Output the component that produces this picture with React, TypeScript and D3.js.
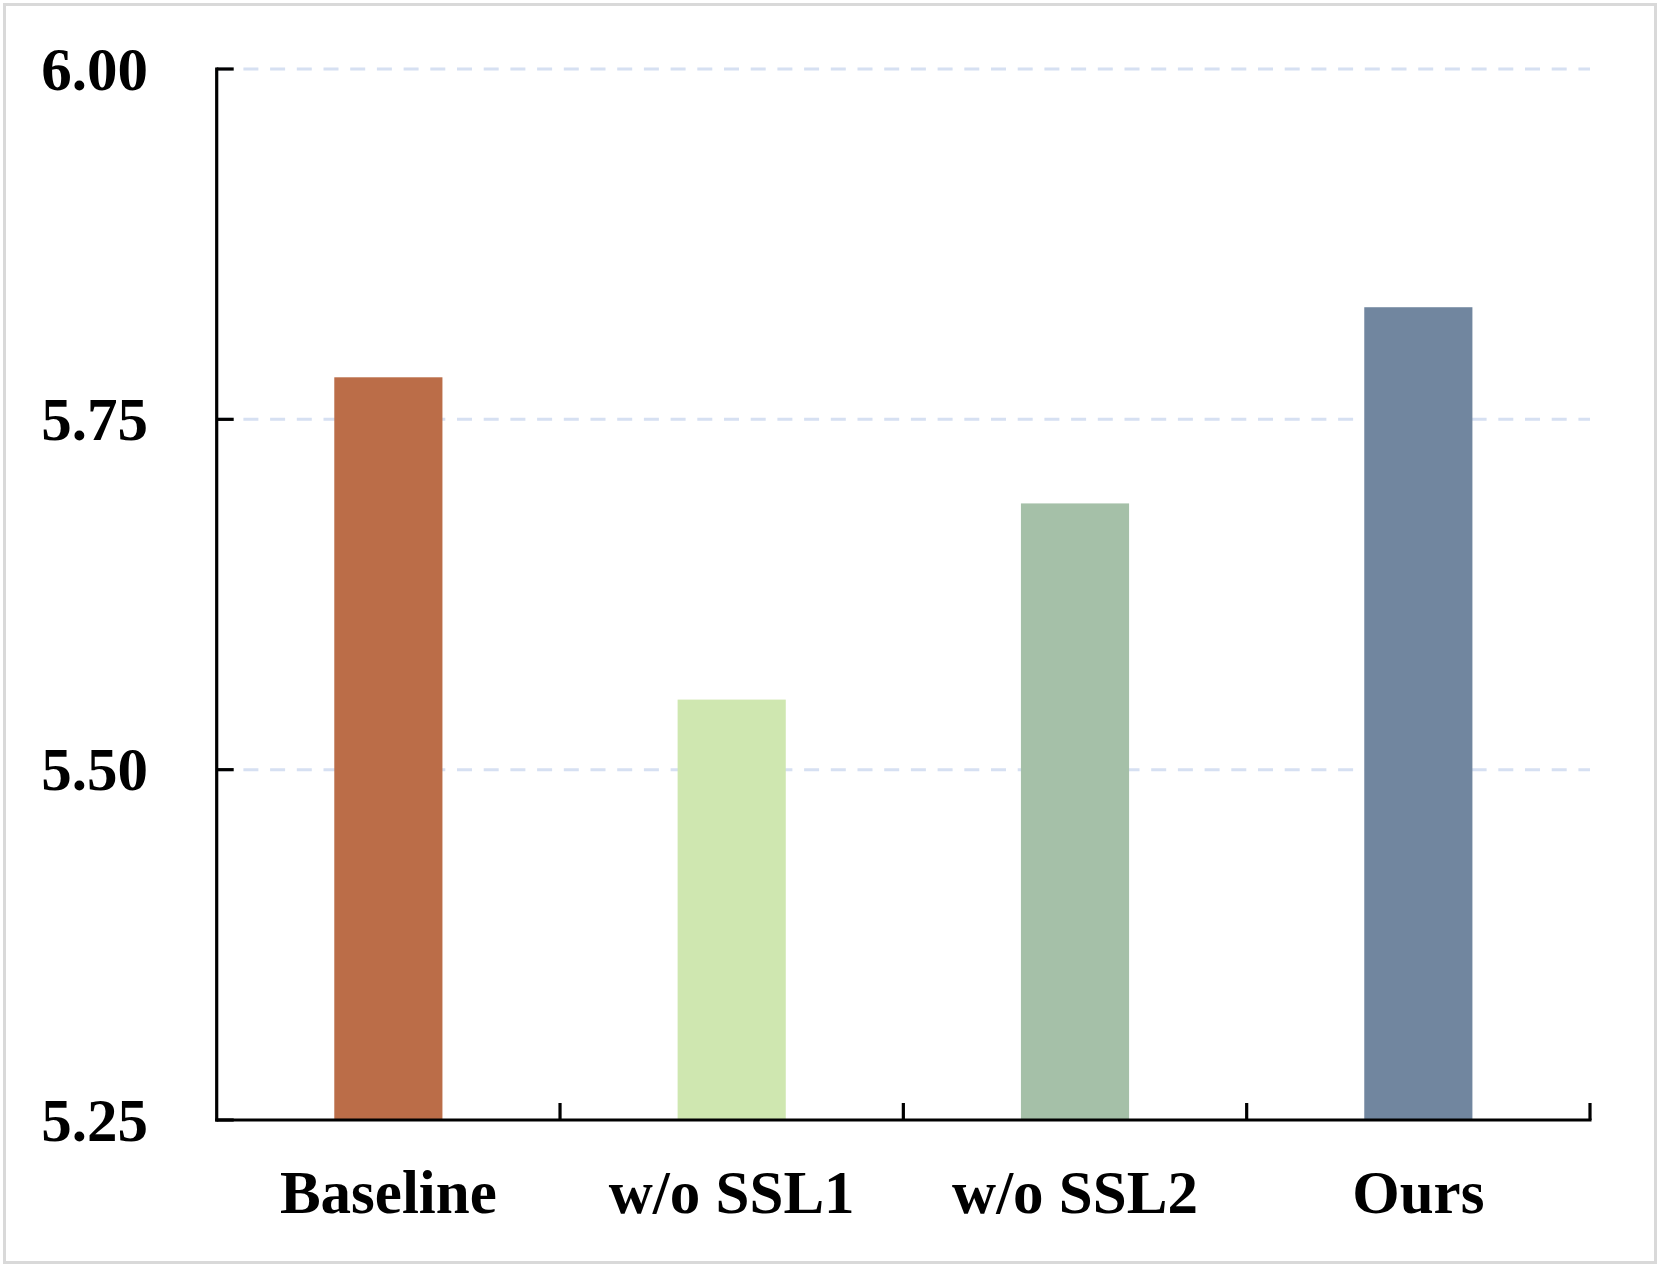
import React from "react";
import * as d3 from "d3";

const categories = ["Baseline", "w/o SSL1", "w/o SSL2", "Ours"];
const values = [5.78, 5.55, 5.69, 5.83];
const barColors = ["#bb6d48", "#cfe7b0", "#a5c0a8", "#71869f"];
const yTicks = [5.25, 5.5, 5.75, 6.0];

const W = 1660;
const H = 1267;
const left = 216.7;
const right = 1590;
const top = 69;
const bottom = 1120;
const FONT = "'Liberation Serif', 'Times New Roman', serif";

export default function App() {
  const x = d3.scaleBand<string>().domain(categories).range([left, right]).paddingInner(0.685).paddingOuter(0.3425);
  const xOuter = d3.scaleBand<string>().domain(categories).range([left, right]).padding(0);
  const y = d3.scaleLinear().domain([5.25, 6.0]).range([bottom, top]);

  return (
    <svg width={W} height={H} style={{ position: "absolute", left: 0, top: 0, background: "#fff" }}>
      <rect x={0} y={0} width={W} height={H} fill="#fff" />
      <rect x={4.5} y={4.5} width={1651} height={1258} fill="none" stroke="#d9d9d9" strokeWidth={3} />
      {yTicks.filter((t) => t !== 5.25).map((t) => (
        <line key={"g" + t} x1={left} x2={right} y1={y(t)} y2={y(t)} stroke="#d6e0f2" strokeWidth={3} strokeDasharray="15 11.7" />
      ))}
      {categories.map((c, i) => (
        <rect key={c} x={x(c)} y={y(values[i])} width={x.bandwidth()} height={bottom - y(values[i])} fill={barColors[i]} />
      ))}
      <line x1={left} x2={left} y1={top - 1.5} y2={bottom + 1.5} stroke="#000" strokeWidth={3.2} />
      <line x1={left - 1.5} x2={right + 1.5} y1={bottom} y2={bottom} stroke="#000" strokeWidth={3.2} />
      {yTicks.map((t) => (
        <g key={"t" + t}>
          <line x1={left} x2={left + 17} y1={y(t)} y2={y(t)} stroke="#000" strokeWidth={3.2} />
          <text x={148} y={y(t)} dy="0.34em" textAnchor="end" fontFamily={FONT} fontWeight="bold" fontSize={61} fill="#000">
            {t.toFixed(2)}
          </text>
        </g>
      ))}
      {categories.map((c) => (
        <line key={"xt" + c} x1={(xOuter(c) as number) + xOuter.bandwidth()} x2={(xOuter(c) as number) + xOuter.bandwidth()} y1={bottom} y2={bottom - 17} stroke="#000" strokeWidth={3.2} />
      ))}
      {categories.map((c) => (
        <text key={"xl" + c} x={(x(c) as number) + x.bandwidth() / 2} y={1213} textAnchor="middle" fontFamily={FONT} fontWeight="bold" fontSize={61} fill="#000">
          {c}
        </text>
      ))}
    </svg>
  );
}
